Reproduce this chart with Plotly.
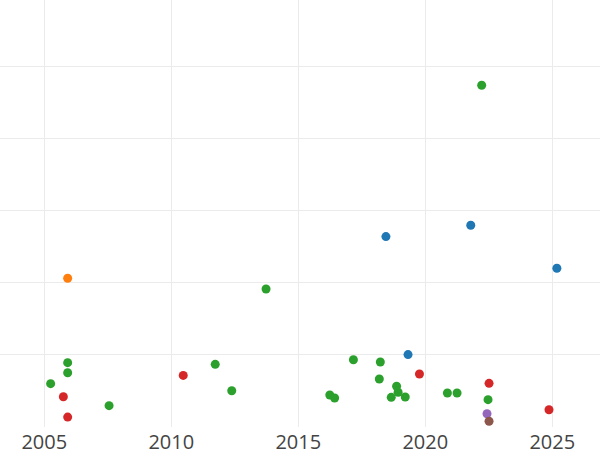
import plotly.graph_objects as go

# values, grouped by colour
green_year = [2005.25, 2005.92, 2005.92, 2007.55, 2011.73, 2012.38, 2013.73, 2016.24,
              2016.43, 2017.17, 2018.23, 2018.19, 2018.87, 2018.93, 2018.66, 2019.21,
              2020.87, 2021.25, 2022.47, 2022.22]
green_val = [30.1, 37.7, 44.7, 14.8, 43.5, 25.2, 95.8, 22.2,
             20.1, 46.7, 45.1, 33.3, 28.3, 24.1, 20.6, 20.8,
             23.6, 23.6, 19.0, 237.3]

red_year = [2005.75, 2005.92, 2010.47, 2019.77, 2022.51, 2024.87]
red_val = [21.0, 6.9, 35.8, 36.8, 30.3, 12.0]

orange_year = [2005.92]
orange_val = [103.3]

blue_year = [2018.45, 2019.32, 2021.79, 2025.18]
blue_val = [132.2, 50.3, 140.1, 110.2]

purple_year = [2022.43]
purple_val = [9.2]

brown_year = [2022.51]
brown_val = [4.0]

groups = [
    (blue_year, blue_val, "#1f77b4"),
    (orange_year, orange_val, "#ff7f0e"),
    (green_year, green_val, "#2ca02c"),
    (red_year, red_val, "#d62728"),
    (purple_year, purple_val, "#9467bd"),
    (brown_year, brown_val, "#8c564b"),
]

fig = go.Figure()
for xs, ys, color in groups:
    fig.add_trace(go.Scatter(
        x=xs, y=ys, mode="markers",
        marker=dict(color=color, size=9),
        showlegend=False
    ))

fig.update_layout(
    width=600, height=450,
    plot_bgcolor="white", paper_bgcolor="white",
    margin=dict(l=0, r=0, t=0, b=23),
    font=dict(size=20, color="#444"),
)
fig.update_xaxes(
    range=[2003.256, 2026.878], dtick=5, tick0=2005,
    showgrid=True, gridcolor="#ebebeb", zeroline=False, showline=False,
    ticks="", ticklabelstandoff=1,
    automargin=False,
)
fig.update_yaxes(
    range=[0, 296.5], dtick=50,
    showgrid=True, gridcolor="#ebebeb", zeroline=False, showline=False,
    showticklabels=False, automargin=False,
)

# page margin off so the figure sits flush in the window
fig.write_html(
    "out.html",
    config={"displayModeBar": False},
    post_script="document.body.style.margin='0';",
)
